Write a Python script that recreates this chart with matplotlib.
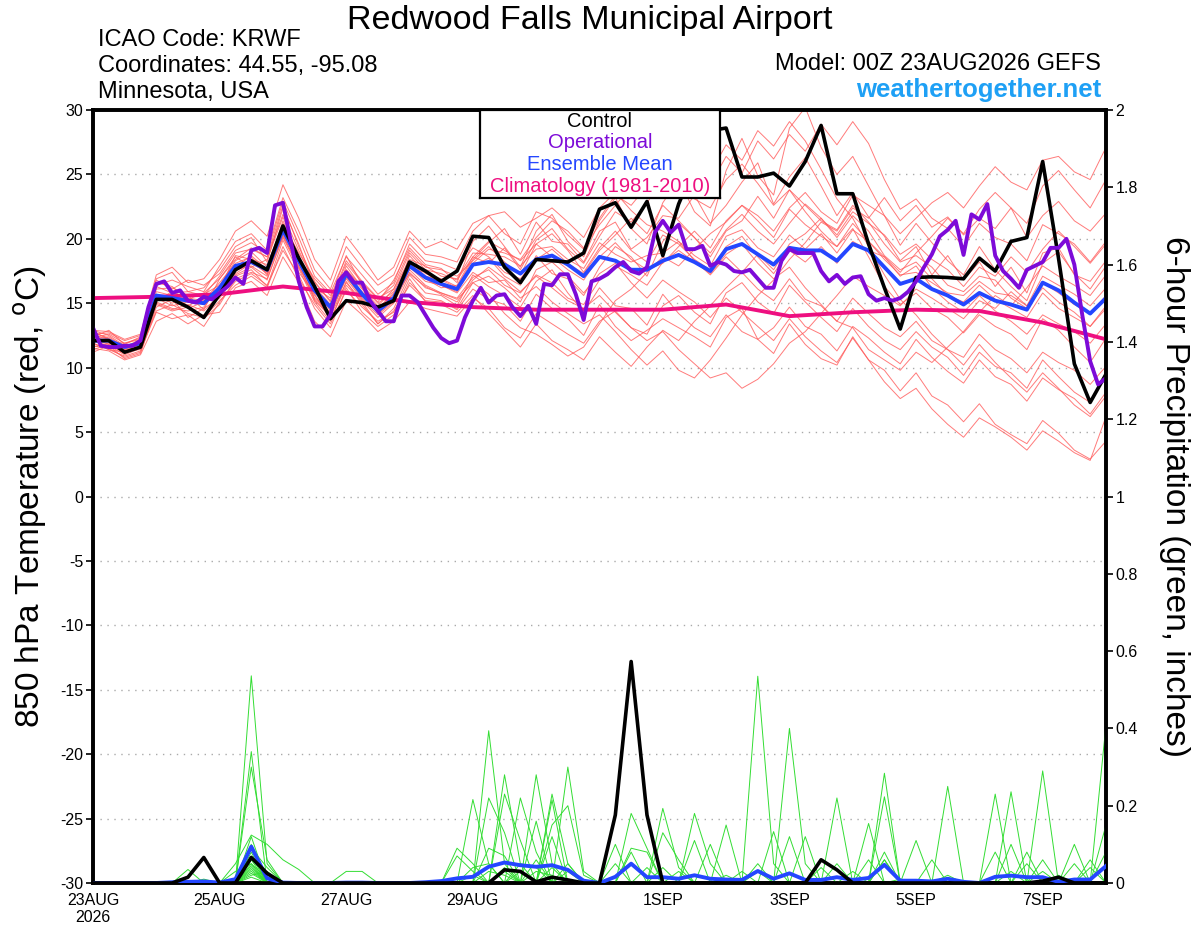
import matplotlib
matplotlib.use('Agg')
import matplotlib.pyplot as plt

plt.rcParams['font.family'] = ['Liberation Sans', 'DejaVu Sans']
plt.rcParams['axes.unicode_minus'] = False

# ---------------- time axes (hours from 00Z 23AUG2026) ----------------
hours6 = list(range(0, 385, 6))
hours3 = list(range(0, 385, 3))
clim_hours = list(range(0, 385, 24))

tick_hours = [0, 48, 96, 144, 216, 264, 312, 360]
tick_labels = ["23AUG\n2026", "25AUG", "27AUG", "29AUG", "1SEP", "3SEP", "5SEP", "7SEP"]

# ---------------- 850 hPa temperature (deg C) ----------------
control_t = [12.1, 12.1, 11.2, 11.6, 15.3, 15.3, 14.7, 13.9,
             15.7, 17.6, 18.3, 17.6, 21.0, 18.5, 16.3, 13.8,
             15.2, 15.05, 14.7, 15.2, 18.2, 17.5, 16.7, 17.5,
             20.2, 20.1, 17.8, 16.6, 18.4, 18.3, 18.2, 18.9,
             22.3, 22.8, 20.9, 22.9, 18.7, 22.7, 25.6, 28.4,
             28.6, 24.8, 24.8, 25.1, 24.1, 26.0, 28.8, 23.5,
             23.5, 19.6, 16.2, 13.0, 17.0, 17.05, 17.0, 16.9,
             18.5, 17.5, 19.8, 20.1, 26.0, 18.5, 10.3, 7.3, 9.5]

mean_t = [12.1, 12.1, 11.6, 11.9, 15.6, 15.4, 15.2, 15.0,
          16.2, 17.9, 18.2, 17.6, 20.7, 18.3, 16.0, 14.7,
          17.3, 15.7, 14.4, 15.4, 17.9, 17.0, 16.5, 16.1,
          18.0, 18.2, 18.0, 17.3, 18.4, 18.7, 18.0, 17.1,
          18.6, 18.3, 17.6, 17.6, 18.3, 18.75, 18.2, 17.5,
          19.2, 19.6, 18.8, 18.0, 19.3, 19.1, 19.1, 18.3,
          19.6, 19.1, 17.8, 16.5, 16.9, 16.1, 15.6, 14.9,
          15.8, 15.2, 14.9, 14.5, 16.6, 16.0, 15.05, 14.2, 15.4]

operational_t = [13.1, 11.7, 11.6, 11.6, 11.7, 11.7, 12.1, 14.7,
                 16.5, 16.7, 15.8, 16.0, 15.2, 15.05, 15.5, 15.3,
                 15.8, 16.3, 17.0, 16.5, 19.1, 19.3, 18.9, 22.6,
                 22.8, 19.8, 16.7, 14.7, 13.2, 13.2, 14.1, 16.7,
                 17.4, 16.6, 16.6, 15.2, 14.4, 13.6, 13.6, 15.6,
                 15.6, 15.1, 14.1, 13.1, 12.3, 11.9, 12.1, 13.9,
                 15.2, 16.2, 15.05, 15.6, 15.7, 14.7, 14.0, 14.8,
                 13.4, 16.5, 16.4, 17.25, 17.25, 15.7, 13.7, 16.7,
                 16.9, 17.25, 17.8, 18.2, 17.5, 17.3, 17.8, 20.5,
                 21.4, 20.5, 21.1, 19.2, 19.2, 19.45, 17.9, 18.2,
                 18.0, 17.5, 17.4, 17.6, 16.9, 16.2, 16.2, 18.3,
                 19.2, 18.9, 18.9, 18.9, 17.5, 16.7, 17.2, 16.5,
                 17.0, 17.1, 15.7, 15.2, 15.4, 15.2, 15.4, 15.9,
                 16.7, 17.8, 18.8, 20.2, 20.7, 21.4, 18.75, 21.9,
                 21.5, 22.7, 18.7, 17.5, 16.9, 16.2, 17.6, 17.9,
                 18.2, 19.3, 19.3, 20.0, 18.0, 14.1, 10.5, 8.7, 9.2]

climatology_t = [15.4, 15.5, 15.7, 16.3, 15.8, 15.1, 14.7, 14.5, 14.5,
                 14.5, 14.9, 14.0, 14.3, 14.5, 14.4, 13.5, 12.2]

mem01 = [12.8, 12.2, 11.4, 12.1, 16.9, 17.4, 15.9, 16.2, 17.6, 19.4, 20.1, 18.2, 22.4, 19.6, 16.2, 15.4,
         18.7, 16.4, 15.1, 16.8, 19.3, 18.0, 17.7, 16.6, 19.8, 21.0, 19.4, 17.8, 20.6, 21.9, 19.8, 18.6,
         21.4, 23.2, 20.8, 19.6, 22.8, 24.6, 22.1, 21.0, 25.3, 27.8, 24.9, 23.4, 28.6, 30.2, 27.1, 25.0,
         26.4, 24.1, 21.8, 19.5, 21.2, 19.7, 18.3, 17.2, 19.4, 17.6, 16.3, 15.2, 18.1, 19.0, 17.3, 16.1, 17.9]
mem02 = [11.9, 11.4, 10.9, 11.3, 14.3, 13.8, 14.1, 13.2, 15.1, 16.7, 17.3, 16.4, 19.1, 17.2, 14.6, 13.1,
         16.2, 14.3, 13.2, 14.1, 16.6, 15.4, 15.2, 14.5, 16.1, 15.3, 14.9, 13.6, 15.7, 14.6, 13.8, 12.5,
         14.9, 13.2, 12.1, 12.9, 13.8, 13.1, 12.4, 11.6, 13.9, 14.6, 12.2, 11.1, 13.4, 11.8, 10.7, 10.2,
         12.4, 10.6, 9.8, 8.2, 9.6, 7.8, 7.1, 5.8, 7.2, 5.6, 4.8, 4.1, 5.9, 4.9, 3.6, 2.9, 4.3]
mem03 = [12.4, 12.0, 11.9, 12.3, 15.7, 15.0, 15.6, 14.5, 16.9, 18.6, 17.8, 18.4, 21.7, 18.6, 15.3, 14.1,
         17.9, 16.2, 14.2, 15.2, 18.7, 17.3, 16.9, 16.3, 18.4, 19.7, 20.8, 18.8, 21.3, 19.8, 19.6, 18.2,
         20.6, 21.3, 19.2, 20.1, 21.8, 21.6, 23.4, 21.2, 22.6, 24.4, 25.9, 22.7, 24.8, 26.3, 24.1, 21.8,
         23.6, 21.7, 20.2, 18.3, 19.4, 17.2, 18.7, 16.8, 18.2, 16.3, 17.8, 15.8, 18.9, 19.3, 17.2, 16.7, 18.3]
mem04 = [11.2, 11.7, 10.7, 11.1, 14.7, 15.3, 13.9, 14.6, 15.4, 17.1, 17.6, 16.3, 19.9, 17.4, 15.7, 13.7,
         16.4, 15.1, 13.4, 14.6, 17.2, 15.8, 15.6, 14.8, 17.2, 16.3, 15.6, 14.7, 16.7, 17.6, 15.8, 14.3,
         16.2, 14.8, 14.6, 13.3, 15.7, 14.2, 13.1, 12.4, 14.1, 12.8, 12.2, 13.1, 14.7, 13.2, 12.6, 11.3,
         13.2, 12.3, 11.2, 10.3, 12.2, 10.8, 9.7, 8.8, 10.6, 9.3, 8.7, 7.4, 9.2, 8.3, 7.6, 6.4, 8.1]
mem05 = [12.6, 12.7, 12.1, 12.5, 16.1, 16.2, 15.6, 15.7, 16.4, 18.3, 19.0, 17.8, 21.2, 18.9, 16.9, 15.6,
         17.6, 16.1, 14.8, 16.1, 18.4, 17.9, 17.1, 16.9, 18.9, 18.8, 18.6, 17.9, 19.2, 19.4, 18.4, 17.7,
         19.7, 18.8, 18.2, 18.7, 18.9, 19.8, 18.7, 17.9, 20.2, 20.7, 19.3, 18.6, 20.3, 19.2, 20.4, 18.9,
         20.7, 19.8, 18.4, 17.2, 17.4, 16.6, 15.8, 15.6, 16.7, 15.8, 15.6, 14.8, 17.1, 16.4, 15.7, 14.8, 16.2]
mem06 = [12.2, 12.4, 11.6, 11.9, 15.2, 15.9, 15.4, 15.2, 16.6, 18.1, 18.6, 17.2, 20.4, 18.1, 16.3, 14.9,
         17.1, 15.9, 14.6, 15.7, 18.2, 16.9, 16.2, 16.4, 18.6, 18.1, 19.3, 17.6, 19.9, 20.8, 19.2, 18.1,
         20.2, 22.1, 21.3, 22.8, 24.6, 23.3, 25.7, 24.2, 26.4, 25.1, 27.6, 26.2, 28.1, 26.8, 28.9, 27.3,
         29.1, 27.4, 24.6, 22.3, 23.1, 21.6, 20.8, 19.4, 21.2, 20.1, 19.6, 18.3, 21.1, 20.4, 19.6, 18.2, 19.8]
mem07 = [12.9, 12.5, 11.7, 12.0, 15.4, 14.8, 15.1, 15.3, 15.8, 17.5, 18.2, 17.3, 20.2, 17.9, 15.4, 14.3,
         16.9, 15.3, 14.1, 15.1, 17.6, 16.4, 15.8, 15.3, 16.6, 15.7, 14.2, 13.1, 12.6, 11.8, 10.9, 11.6,
         13.4, 15.2, 16.1, 17.4, 18.6, 17.9, 19.2, 20.4, 21.3, 22.6, 21.4, 20.1, 22.3, 21.1, 20.2, 19.4,
         20.8, 18.6, 16.3, 14.9, 15.8, 14.6, 13.9, 12.7, 14.1, 13.2, 12.6, 11.4, 13.8, 12.9, 11.6, 10.4, 12.3]
mem08 = [11.6, 11.9, 11.2, 11.6, 16.4, 16.8, 16.3, 15.9, 17.9, 19.8, 20.4, 19.1, 23.2, 20.6, 17.6, 16.1,
         19.4, 17.8, 16.4, 17.2, 20.1, 18.8, 18.6, 18.2, 20.6, 21.8, 22.1, 20.9, 21.6, 22.4, 21.3, 20.1,
         22.4, 23.6, 22.2, 21.1, 20.6, 19.8, 18.3, 17.2, 18.6, 17.4, 16.1, 15.2, 16.9, 15.3, 14.8, 13.6,
         15.4, 14.2, 13.1, 12.4, 13.6, 12.1, 11.4, 10.8, 12.6, 11.4, 10.7, 9.6, 11.2, 10.4, 9.8, 8.7, 10.1]
mem09 = [12.3, 11.8, 11.1, 11.7, 15.9, 15.6, 14.8, 15.4, 16.1, 18.7, 18.4, 18.0, 21.1, 18.3, 15.9, 14.6,
         17.4, 15.6, 14.6, 15.8, 17.7, 17.4, 16.4, 15.9, 17.9, 18.5, 17.1, 16.4, 18.7, 17.3, 16.9, 15.6,
         17.8, 19.4, 18.6, 17.1, 19.8, 21.2, 20.1, 18.6, 20.6, 21.4, 23.3, 21.6, 23.8, 22.6, 21.4, 20.7,
         22.6, 21.3, 19.6, 18.2, 18.7, 17.8, 16.4, 15.9, 17.1, 16.8, 15.4, 14.6, 16.2, 15.1, 14.3, 13.2, 14.8]
mem10 = [12.0, 12.1, 11.4, 11.8, 15.1, 14.6, 14.4, 14.7, 16.3, 17.6, 17.9, 17.1, 20.8, 18.4, 16.1, 14.4,
         17.1, 15.4, 14.3, 15.3, 17.8, 16.7, 16.4, 15.8, 17.4, 16.6, 16.8, 15.4, 16.3, 15.1, 14.2, 13.4,
         14.1, 12.8, 11.4, 10.2, 11.3, 9.8, 9.2, 10.6, 12.3, 14.1, 15.6, 16.8, 18.4, 19.7, 21.3, 20.6,
         22.4, 21.6, 23.2, 21.4, 22.6, 20.9, 21.7, 20.3, 21.6, 20.8, 22.4, 20.1, 21.8, 22.9, 21.4, 20.6, 22.0]
mem11 = [12.7, 12.3, 11.6, 12.2, 16.6, 16.3, 15.3, 15.8, 16.9, 18.4, 19.3, 18.6, 22.6, 19.4, 16.7, 15.1,
         18.1, 16.6, 15.3, 16.4, 19.1, 17.8, 17.6, 17.1, 18.3, 19.4, 18.2, 17.2, 19.6, 20.4, 19.1, 17.4,
         19.3, 20.6, 19.1, 18.2, 20.3, 19.6, 18.4, 17.6, 19.4, 20.2, 18.6, 17.3, 19.1, 18.2, 19.4, 18.1,
         19.8, 19.1, 18.6, 17.4, 18.9, 20.2, 21.6, 20.4, 22.3, 23.6, 22.4, 21.2, 24.1, 25.3, 23.8, 22.4, 24.6]
mem12 = [11.5, 11.3, 10.6, 11.0, 13.6, 14.2, 13.4, 14.1, 14.3, 16.2, 16.7, 15.6, 18.6, 16.6, 13.6, 12.4,
         15.2, 14.1, 12.8, 13.6, 15.1, 14.6, 14.3, 14.0, 15.4, 14.6, 13.1, 12.3, 14.2, 13.4, 12.6, 11.9,
         13.6, 14.4, 13.1, 12.6, 14.8, 15.6, 14.3, 13.4, 15.8, 16.6, 15.1, 14.2, 16.4, 15.1, 13.9, 12.8,
         14.6, 13.2, 12.1, 11.4, 12.8, 11.6, 10.8, 9.4, 11.2, 10.1, 9.6, 8.4, 10.6, 9.3, 8.1, 7.3, 9.4]
mem13 = [12.5, 12.2, 11.3, 11.8, 15.6, 15.4, 15.2, 14.9, 16.0, 17.8, 18.7, 17.6, 21.4, 18.7, 15.8, 14.6,
         17.6, 16.3, 15.0, 15.9, 18.3, 17.1, 16.8, 16.2, 18.1, 19.2, 18.9, 18.4, 20.1, 21.4, 20.6, 19.3,
         21.1, 22.6, 24.1, 23.2, 25.4, 24.6, 26.2, 25.1, 27.3, 26.1, 28.4, 27.2, 29.1, 27.6, 25.4, 23.1,
         21.6, 19.4, 17.2, 15.3, 14.1, 12.6, 11.4, 10.2, 11.8, 10.4, 9.2, 8.1, 9.6, 8.4, 7.1, 6.2, 7.8]
mem14 = [12.1, 11.7, 11.0, 11.5, 15.3, 15.7, 14.6, 15.1, 15.7, 17.3, 18.1, 17.4, 20.6, 18.1, 15.2, 14.0,
         16.6, 15.2, 13.9, 15.0, 17.4, 16.2, 15.8, 15.4, 17.0, 17.6, 16.4, 15.8, 17.2, 16.6, 15.4, 14.9,
         16.8, 17.9, 17.2, 16.4, 18.2, 19.1, 18.2, 17.3, 18.8, 19.6, 18.1, 16.9, 17.8, 16.2, 14.9, 13.6,
         13.1, 11.4, 10.6, 9.8, 11.2, 10.4, 11.6, 12.8, 14.3, 15.6, 14.8, 16.2, 17.9, 17.1, 16.4, 15.6, 17.2]
mem15 = [12.9, 12.8, 12.2, 12.6, 17.2, 17.8, 16.6, 16.9, 18.4, 20.6, 21.4, 20.2, 24.2, 21.6, 18.4, 16.8,
         20.2, 18.6, 16.8, 17.8, 20.6, 19.3, 19.8, 19.2, 21.2, 21.8, 20.4, 19.6, 22.1, 21.6, 20.3, 19.2,
         21.6, 23.4, 22.6, 24.1, 25.6, 24.2, 23.1, 22.4, 24.6, 25.8, 24.3, 22.6, 23.8, 22.1, 20.6, 19.4,
         21.2, 19.8, 18.6, 17.1, 17.9, 16.2, 15.1, 14.3, 15.6, 14.4, 13.6, 12.6, 14.1, 13.4, 12.8, 11.9, 13.4]
mem16 = [11.4, 11.8, 11.3, 11.4, 14.4, 14.9, 14.2, 13.9, 15.2, 16.4, 17.1, 16.2, 19.4, 16.9, 14.9, 13.4,
         16.0, 14.7, 13.6, 14.3, 16.9, 15.1, 14.9, 14.3, 15.6, 14.2, 12.9, 11.6, 13.4, 12.1, 11.4, 10.6,
         12.4, 11.2, 10.1, 11.6, 12.9, 12.1, 13.6, 14.8, 16.2, 17.4, 18.8, 17.6, 19.6, 20.4, 21.6, 20.3,
         22.1, 21.2, 20.3, 18.8, 19.6, 18.4, 17.6, 16.3, 17.8, 17.1, 18.6, 17.4, 19.2, 20.6, 19.4, 18.1, 19.6]
mem17 = [12.3, 12.6, 11.9, 12.2, 16.3, 15.8, 15.9, 15.6, 17.1, 18.9, 19.2, 18.6, 21.9, 19.1, 16.6, 15.2,
         18.3, 16.7, 15.4, 16.1, 18.9, 17.6, 17.3, 16.8, 18.6, 19.8, 19.1, 18.3, 19.6, 18.6, 17.6, 16.8,
         18.6, 19.7, 18.4, 17.6, 18.1, 19.4, 20.6, 19.3, 21.4, 22.6, 21.8, 20.6, 22.4, 23.6, 22.1, 21.2,
         23.4, 22.6, 21.8, 20.4, 21.6, 22.8, 23.6, 22.4, 24.1, 25.6, 24.4, 23.8, 26.1, 26.4, 25.2, 24.6, 27.1]
mem18 = [11.7, 11.5, 10.8, 11.2, 14.9, 14.4, 14.7, 13.8, 14.9, 16.9, 17.4, 16.9, 20.1, 17.7, 15.1, 13.6,
         16.7, 14.9, 13.4, 14.4, 16.4, 15.2, 15.1, 14.6, 16.6, 17.1, 16.2, 15.1, 17.6, 18.2, 17.1, 15.8,
         17.3, 18.1, 16.6, 15.4, 16.8, 15.9, 15.1, 13.9, 15.4, 14.3, 13.2, 12.1, 13.8, 12.4, 11.3, 10.4,
         12.3, 10.6, 8.9, 7.6, 8.4, 6.8, 5.6, 4.6, 6.1, 5.4, 4.6, 3.6, 5.1, 4.3, 3.4, 2.8, 6.2]
mem19 = [12.4, 12.9, 11.8, 12.4, 16.8, 16.1, 16.8, 16.4, 17.3, 19.1, 19.7, 18.9, 22.9, 20.1, 17.1, 15.8,
         18.6, 17.2, 15.7, 16.6, 19.6, 18.3, 18.1, 17.6, 19.3, 18.6, 17.4, 16.9, 18.4, 19.2, 18.1, 17.3,
         19.1, 20.3, 21.6, 20.4, 22.6, 21.4, 20.1, 18.9, 20.7, 21.9, 20.6, 19.6, 21.2, 22.7, 21.6, 20.1,
         21.8, 20.6, 18.7, 17.6, 18.2, 16.9, 15.6, 15.1, 16.4, 15.3, 14.6, 13.9, 15.8, 14.6, 13.9, 13.2, 14.6]
mem20 = [11.9, 11.4, 11.2, 11.6, 15.0, 14.5, 14.9, 14.4, 15.6, 17.2, 17.8, 16.8, 20.3, 17.8, 15.6, 14.1,
         17.0, 15.6, 14.4, 15.4, 17.3, 16.3, 15.7, 15.1, 16.8, 17.8, 16.9, 15.9, 17.1, 16.2, 15.2, 14.6,
         15.6, 14.3, 13.1, 12.1, 12.8, 11.4, 10.3, 9.2, 9.6, 8.4, 9.1, 10.3, 11.9, 12.8, 14.2, 15.6,
         17.1, 16.3, 15.6, 14.8, 16.1, 15.4, 14.6, 13.8, 15.2, 14.6, 15.9, 14.8, 16.6, 15.8, 14.9, 14.2, 15.6]
member_temps = [mem01, mem02, mem03, mem04, mem05, mem06, mem07, mem08, mem09, mem10,
                mem11, mem12, mem13, mem14, mem15, mem16, mem17, mem18, mem19, mem20]

# ---------------- 6-hour precipitation (inches) ----------------
control_p = {36: 0.015, 42: 0.066, 60: 0.066, 66: 0.025, 156: 0.034, 162: 0.03, 168: 0.003,
             174: 0.015, 180: 0.008, 198: 0.176, 204: 0.573, 210: 0.176, 276: 0.06, 282: 0.034,
             360: 0.005, 366: 0.015}
mean_p = [0, 0, 0, 0, 0, 0.002, 0.003, 0.004, 0.001, 0.01, 0.094, 0.012, 0.001, 0, 0, 0,
          0.001, 0.001, 0, 0, 0, 0.002, 0.005, 0.012, 0.016, 0.042, 0.053, 0.046, 0.042, 0.046, 0.034, 0.006,
          0.0, 0.016, 0.05, 0.015, 0.015, 0.011, 0.02, 0.011, 0.009, 0.008, 0.031, 0.011, 0.025, 0.008, 0.008, 0.015,
          0.008, 0.013, 0.047, 0.006, 0.006, 0.004, 0.011, 0.003, 0.0, 0.016, 0.019, 0.015, 0.015, 0.003, 0.009, 0.009,
          0.044]
pm01 = {60: 0.536, 66: 0.05, 156: 0.28, 162: 0.05, 252: 0.05, 300: 0.06}
pm02 = {60: 0.34, 150: 0.394, 156: 0.05, 204: 0.08, 264: 0.12}
pm03 = {60: 0.30, 66: 0.06, 144: 0.216, 150: 0.05, 252: 0.535, 258: 0.05, 360: 0.06}
pm04 = {54: 0.05, 60: 0.124, 66: 0.10, 72: 0.06, 78: 0.035, 168: 0.28, 174: 0.05, 264: 0.40, 270: 0.05, 384: 0.15}
pm05 = {60: 0.12, 138: 0.09, 144: 0.05, 174: 0.23, 180: 0.05, 216: 0.193, 222: 0.04, 300: 0.284}
pm06 = {36: 0.035, 60: 0.10, 162: 0.22, 168: 0.08, 228: 0.18, 234: 0.05, 324: 0.25}
pm07 = {60: 0.09, 66: 0.04, 180: 0.30, 186: 0.03, 240: 0.15, 342: 0.23}
pm08 = {60: 0.08, 156: 0.23, 162: 0.11, 204: 0.18, 210: 0.09, 282: 0.22, 348: 0.10}
pm09 = {60: 0.06, 150: 0.22, 156: 0.13, 174: 0.215, 198: 0.10, 258: 0.133, 360: 0.29}
pm10 = {54: 0.03, 60: 0.05, 96: 0.03, 102: 0.03, 174: 0.15, 180: 0.20, 186: 0.02, 300: 0.223, 384: 0.41}
pm11 = {60: 0.04, 138: 0.07, 144: 0.03, 168: 0.16, 216: 0.13, 222: 0.06, 294: 0.154, 372: 0.10}
pm12 = {60: 0.03, 150: 0.09, 156: 0.07, 174: 0.12, 204: 0.09, 210: 0.08, 312: 0.11, 348: 0.236}
pm13 = {60: 0.02, 66: 0.03, 162: 0.05, 168: 0.04, 198: 0.05, 228: 0.11, 270: 0.12, 300: 0.08, 378: 0.06}
pm14 = {60: 0.07, 144: 0.04, 150: 0.05, 180: 0.05, 234: 0.10, 282: 0.05, 354: 0.08, 384: 0.08}
pm15 = {60: 0.045, 156: 0.04, 168: 0.06, 246: 0.03, 276: 0.04, 318: 0.06, 342: 0.08}
pm16 = {60: 0.06, 66: 0.02, 162: 0.03, 174: 0.04, 288: 0.03, 300: 0.06, 354: 0.05, 372: 0.05}
pm17 = {60: 0.035, 150: 0.03, 156: 0.02, 210: 0.04, 222: 0.03, 294: 0.06, 378: 0.04}
pm18 = {60: 0.025, 168: 0.03, 174: 0.02, 252: 0.03, 324: 0.02, 366: 0.02}
pm19 = {60: 0.015, 144: 0.02, 180: 0.03, 240: 0.02, 306: 0.01, 360: 0.03}
pm20 = {42: 0.01, 60: 0.05, 66: 0.01, 156: 0.03, 216: 0.04, 348: 0.03}
member_precip = [pm01, pm02, pm03, pm04, pm05, pm06, pm07, pm08, pm09, pm10,
                 pm11, pm12, pm13, pm14, pm15, pm16, pm17, pm18, pm19, pm20]


def expand(d):
    return [d.get(h, 0.0) for h in hours6]


# ---------------- styling ----------------
C_MEMBER = '#ff5a5a'
C_PMEMBER = '#33dd33'
C_CONTROL = '#000000'
C_OPER = '#7d0ad8'
C_MEAN = '#2446ff'
C_CLIM = '#ee0f80'
C_WEB = '#1ea0f5'

W, H = 1200, 927
fig = plt.figure(figsize=(W / 100, H / 100), dpi=100)


def fx(x):
    return x / W


def fy(y):
    return 1 - y / H


ax = fig.add_axes([fx(93), fy(883), fx(1106) - fx(93), fy(110) - fy(883)])
ax2 = ax.twinx()

for m in member_temps:
    ax.plot(hours6, m, color=C_MEMBER, lw=0.7, alpha=0.8, zorder=2)
ax.plot(clim_hours, climatology_t, color=C_CLIM, lw=2.8, zorder=4)
ax.plot(hours6, mean_t, color=C_MEAN, lw=2.8, zorder=5)
ax.plot(hours6, control_t, color=C_CONTROL, lw=2.6, zorder=6)
ax.plot(hours3, operational_t, color=C_OPER, lw=2.8, zorder=7)

for d in member_precip:
    ax2.plot(hours6, expand(d), color=C_PMEMBER, lw=0.7, zorder=2)
ax2.plot(hours6, expand(control_p), color=C_CONTROL, lw=2.6, zorder=6)
ax2.plot(hours6, mean_p, color=C_MEAN, lw=2.8, zorder=5)

ax.set_xlim(0, 384)
ax.set_ylim(-30, 30)
ax2.set_ylim(0, 2)

ax.set_yticks(list(range(-30, 31, 5)))
ax2.set_yticks([0, 0.2, 0.4, 0.6, 0.8, 1.0, 1.2, 1.4, 1.6, 1.8, 2.0])
ax2.set_yticklabels(['0', '0.2', '0.4', '0.6', '0.8', '1', '1.2', '1.4', '1.6', '1.8', '2'])
ax.set_xticks(tick_hours)
ax.set_xticklabels(tick_labels, fontsize=11.5, linespacing=1.2)
ax.tick_params(axis='x', length=0, pad=7)
ax.tick_params(axis='y', length=5, width=1.2, labelsize=11.5, pad=2, direction='out')
ax2.tick_params(axis='y', length=5, width=1.2, labelsize=11.5, pad=2, direction='out')

for gy in range(-25, 30, 5):
    ax.axhline(gy, color='#aaaaaa', lw=1.0, linestyle=(0, (1, 4)), zorder=1)

for a in (ax, ax2):
    for s in a.spines.values():
        s.set_linewidth(2.6)
        s.set_color('black')

ax.set_ylabel('850 hPa Temperature (red, $^{\\mathrm{o}}$C)', fontsize=24, va='center')
ax.yaxis.set_label_coords(-0.062, 0.5)
ax2.set_ylabel('6-hour Precipitation (green, inches)', fontsize=24, rotation=270,
               va='center')
ax2.yaxis.set_label_coords(1.068, 0.5)

# legend box
lax = fig.add_axes([fx(480), fy(198), fx(720) - fx(480), fy(110) - fy(198)])
lax.set_xticks([])
lax.set_yticks([])
lax.set_facecolor('white')
lax.set_zorder(10)
for s in lax.spines.values():
    s.set_linewidth(1.6)
leg_items = [('Control', C_CONTROL), ('Operational', C_OPER),
             ('Ensemble Mean', C_MEAN), ('Climatology (1981-2010)', C_CLIM)]
for i, (txt, col) in enumerate(leg_items):
    lax.text(0.5, 0.87 - i * 0.245, txt, color=col, fontsize=14.5,
             ha='center', va='center', transform=lax.transAxes)

# header texts
fig.text(fx(590), fy(20), 'Redwood Falls Municipal Airport', fontsize=24.5,
         ha='center', va='center')
fig.text(fx(98), fy(40), 'ICAO Code: KRWF', fontsize=17, ha='left', va='center')
fig.text(fx(98), fy(66), 'Coordinates: 44.55, -95.08', fontsize=17, ha='left', va='center')
fig.text(fx(98), fy(92), 'Minnesota, USA', fontsize=17, ha='left', va='center')
fig.text(fx(1101), fy(64), 'Model: 00Z 23AUG2026 GEFS', fontsize=17, ha='right', va='center')
fig.text(fx(1101), fy(90), 'weathertogether.net', fontsize=18.5, fontweight='bold',
         color=C_WEB, ha='right', va='center')

fig.savefig('out.png', dpi=100)
